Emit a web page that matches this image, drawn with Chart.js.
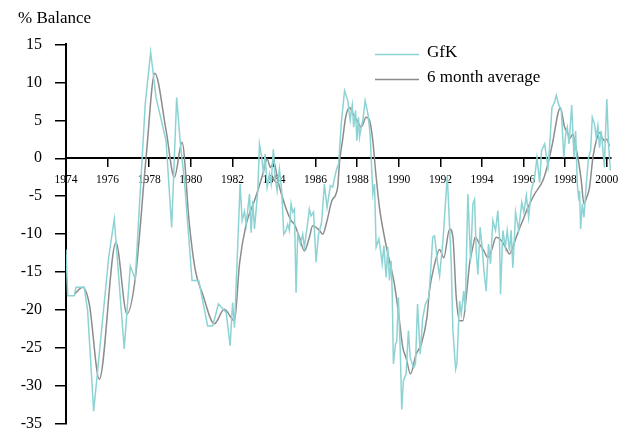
<!DOCTYPE html>
<html>
<head>
<meta charset="utf-8">
<script src="https://cdn.jsdelivr.net/npm/chart.js@4/dist/chart.umd.min.js"></script>
<style>
  html, body { margin: 0; padding: 0; background: #fff; }
  #wrap { width: 626px; height: 431px; }
</style>
</head>
<body>
<div id="wrap"><canvas id="gfk-chart" width="626" height="431"></canvas></div>
<script>
// GfK consumer confidence, % balance
const gfkYears = [
  1974.00, 1974.08, 1974.40, 1974.48, 1974.88, 1975.04, 1975.33, 1976.05, 1976.32, 1976.80,
  1977.09, 1977.33, 1977.81, 1978.07, 1978.33, 1978.81, 1979.08, 1979.32, 1979.50, 1979.69,
  1980.06, 1980.38, 1980.81, 1981.05, 1981.33, 1981.70, 1981.89, 1982.01, 1982.10, 1982.37,
  1982.47, 1982.58, 1982.66, 1982.82, 1982.90, 1982.98, 1983.06, 1983.22, 1983.30, 1983.41,
  1983.49, 1983.57, 1983.67, 1983.78, 1983.86, 1983.97, 1984.05, 1984.15, 1984.26, 1984.37,
  1984.47, 1984.58, 1984.66, 1984.74, 1984.82, 1984.90, 1984.98, 1985.06, 1985.14, 1985.27,
  1985.38, 1985.46, 1985.59, 1985.70, 1985.78, 1985.90, 1986.02, 1986.14, 1986.29, 1986.42,
  1986.55, 1986.71, 1986.82, 1986.99, 1987.11, 1987.23, 1987.39, 1987.55, 1987.66, 1987.76,
  1987.83, 1987.92, 1987.98, 1988.06, 1988.11, 1988.19, 1988.27, 1988.38, 1988.51, 1988.62,
  1988.75, 1988.83, 1988.91, 1989.04, 1989.10, 1989.20, 1989.28, 1989.39, 1989.47, 1989.55,
  1989.63, 1989.68, 1989.74, 1989.84, 1989.90, 1989.98, 1990.07, 1990.14, 1990.22, 1990.35,
  1990.46, 1990.55, 1990.71, 1990.80, 1990.90, 1991.03, 1991.15, 1991.28, 1991.44, 1991.51,
  1991.63, 1991.72, 1991.87, 1991.96, 1992.12, 1992.33, 1992.52, 1992.60, 1992.73, 1992.79,
  1992.92, 1993.00, 1993.12, 1993.19, 1993.32, 1993.45, 1993.56, 1993.64, 1993.72, 1993.80,
  1993.91, 1993.99, 1994.09, 1994.20, 1994.31, 1994.41, 1994.52, 1994.65, 1994.76, 1994.84,
  1994.89, 1995.00, 1995.12, 1995.21, 1995.32, 1995.40, 1995.48, 1995.56, 1995.61, 1995.76,
  1995.91, 1996.01, 1996.13, 1996.24, 1996.37, 1996.53, 1996.64, 1996.77, 1996.86, 1997.01,
  1997.17, 1997.25, 1997.36, 1997.49, 1997.57, 1997.69, 1997.81, 1997.89, 1997.93, 1998.02,
  1998.10, 1998.18, 1998.24, 1998.31, 1998.42, 1998.50, 1998.58, 1998.64, 1998.69, 1998.74,
  1998.82, 1998.90, 1999.01, 1999.12, 1999.22, 1999.30, 1999.41, 1999.49, 1999.57, 1999.65,
  1999.73, 1999.81, 1999.88, 1999.94, 2000.00, 2000.08, 2000.17
];
const gfkValues = [
  -12.0, -18.1, -18.1, -17.0, -17.0, -20.1, -33.3, -13.1, -8.0, -25.1,
  -14.2, -15.9, 7.2, 14.0, 8.0, 2.3, -9.1, 8.0, 1.9, -2.9,
  -16.1, -16.1, -22.1, -22.1, -19.2, -20.3, -24.7, -19.0, -22.3, -3.4,
  -8.2, -7.0, -8.7, -4.7, -9.8, -5.6, -9.3, -4.3, 1.9, 0.1,
  -2.1, 0.6, -3.8, -2.1, -3.4, 1.2, -2.5, -4.3, -1.4, -4.3,
  -10.0, -9.5, -8.7, -9.5, -6.0, -7.1, -6.7, -17.7, -10.0, -11.3,
  -10.0, -11.7, -9.1, -6.7, -7.6, -7.1, -13.7, -10.0, -8.4, -3.4,
  -6.5, -3.6, -3.8, -1.6, -0.7, 4.5, 8.9, 7.6, 5.0, 7.0,
  4.1, 6.3, 2.3, 5.4, 2.8, 4.1, 5.0, 7.6, 5.9, 3.2,
  -4.7, -3.4, -11.7, -10.6, -11.7, -13.9, -11.5, -15.7, -11.7, -16.1,
  -13.5, -17.5, -27.1, -24.5, -24.1, -18.3, -25.4, -33.1, -29.3, -28.4,
  -22.7, -26.3, -27.6, -27.1, -19.2, -25.8, -21.0, -19.2, -18.3, -15.7,
  -10.4, -10.2, -13.9, -15.5, -10.9, -2.3, -13.9, -22.7, -27.8, -27.1,
  -18.8, -20.5, -17.5, -20.1, -4.7, -13.5, -6.0, -5.4, -12.2, -15.3,
  -9.1, -11.3, -14.8, -17.5, -11.3, -13.9, -8.2, -9.5, -6.9, -10.4,
  -17.9, -9.5, -11.7, -9.5, -12.2, -9.5, -14.4, -10.4, -7.1, -9.5,
  -5.8, -7.1, -4.9, -7.8, -4.3, -2.5, 0.1, -3.2, 1.0, 1.9,
  -1.2, 1.5, 6.7, 7.4, 8.3, 7.0, 6.3, 2.3, 0.1, 3.2,
  4.1, 1.9, 4.1, 7.0, 0.1, 3.6, -3.4, -5.1, -4.3, -9.3,
  -6.0, -7.8, -3.4, 0.1, 1.0, 5.4, 4.5, 2.8, 4.3, 1.4,
  3.6, 1.2, -1.2, 3.6, 7.8, 1.9, -1.6
];

// 6 month average
const avgYears = [
  1974.40, 1974.80, 1975.12, 1975.60, 1976.40, 1976.93, 1977.33, 1977.85, 1978.27, 1978.81,
  1979.21, 1979.58, 1979.93, 1980.22, 1980.57, 1981.13, 1981.61, 1982.10, 1982.34, 1982.66,
  1983.06, 1983.46, 1983.67, 1983.83, 1983.99, 1984.18, 1984.50, 1984.82, 1984.98, 1985.22,
  1985.46, 1985.70, 1985.86, 1986.18, 1986.34, 1986.55, 1986.78, 1987.06, 1987.15, 1987.30,
  1987.45, 1987.63, 1987.79, 1988.03, 1988.19, 1988.43, 1988.59, 1988.75, 1988.88, 1989.07,
  1989.31, 1989.55, 1989.79, 1990.03, 1990.19, 1990.35, 1990.56, 1990.83, 1991.08, 1991.35,
  1991.47, 1991.70, 1991.96, 1992.16, 1992.44, 1992.60, 1992.76, 1992.92, 1993.08, 1993.24,
  1993.40, 1993.56, 1993.67, 1993.88, 1994.09, 1994.28, 1994.47, 1994.68, 1994.92, 1995.12,
  1995.32, 1995.53, 1995.76, 1995.96, 1996.20, 1996.40, 1996.53, 1996.93, 1997.17, 1997.41,
  1997.65, 1997.76, 1997.97, 1998.13, 1998.21, 1998.37, 1998.45, 1998.61, 1998.77, 1998.90,
  1999.04, 1999.17, 1999.33, 1999.49, 1999.65, 1999.78, 1999.89, 2000.00, 2000.13
];
const avgValues = [
  -17.9, -17.0, -19.2, -29.1, -11.1, -20.5, -15.8, 0.1, 11.2, 3.7,
  -2.5, 2.1, -8.7, -14.8, -17.9, -21.8, -19.9, -21.4, -13.9, -8.7,
  -5.6, -2.1, -0.1, -1.2, -0.5, -2.9, -6.0, -8.2, -8.7, -10.4,
  -12.2, -10.4, -8.9, -9.5, -10.0, -8.2, -5.6, -3.8, -0.5, 2.5,
  5.5, 6.7, 5.9, 4.8, 4.1, 5.4, 5.0, 2.3, -1.6, -6.5,
  -10.4, -13.5, -16.6, -21.4, -24.9, -26.3, -28.4, -25.8, -24.5, -21.0,
  -17.5, -14.2, -12.0, -13.1, -9.3, -10.4, -18.3, -21.4, -21.4, -18.3,
  -13.9, -11.7, -10.4, -11.3, -12.2, -13.1, -12.0, -10.4, -10.8, -11.7,
  -12.6, -11.3, -9.5, -8.2, -6.5, -5.4, -4.7, -2.9, -0.7, 2.3,
  5.9, 6.7, 4.1, 3.2, 2.6, 3.2, 2.1, 0.1, -2.9, -6.0,
  -5.1, -3.8, 0.1, 2.3, 3.4, 2.7, 2.3, 2.5, 1.6
];

const seriesNames = ['GfK', '6 month average'];
const seriesColors = ['#8dd3d3', '#8c8c8c'];

const serif = 'Liberation Serif';

// legend sits inside the plot, top right
const insideLegend = {
  id: 'insideLegend',
  afterDatasetsDraw(chart) {
    const ctx = chart.ctx;
    const area = chart.chartArea;
    chart.data.datasets.forEach((ds, i) => {
      const y = area.top + 10 + i * 25;
      const x0 = area.left + 309;
      ctx.save();
      ctx.strokeStyle = ds.borderColor;
      ctx.lineWidth = 1.5;
      ctx.beginPath();
      ctx.moveTo(x0, y);
      ctx.lineTo(x0 + 44, y);
      ctx.stroke();
      ctx.fillStyle = '#000';
      ctx.font = '17px "' + serif + '"';
      ctx.textBaseline = 'middle';
      ctx.fillText(ds.label, x0 + 52, y - 2);
      ctx.restore();
    });
  }
};

const toPoints = (xs, ys) => xs.map((x, i) => ({ x: x, y: ys[i] }));

new Chart(document.getElementById('gfk-chart'), {
  type: 'line',
  data: {
    datasets: [
      {
        label: seriesNames[0],
        data: toPoints(gfkYears, gfkValues),
        borderColor: seriesColors[0],
        borderWidth: 1.5,
        pointRadius: 0,
        tension: 0
      },
      {
        label: seriesNames[1],
        data: toPoints(avgYears, avgValues),
        borderColor: seriesColors[1],
        borderWidth: 1.5,
        pointRadius: 0,
        cubicInterpolationMode: 'monotone'
      }
    ]
  },
  options: {
    responsive: false,
    animation: false,
    layout: { padding: { left: 18, right: 15, top: 0, bottom: 7 } },
    plugins: {
      legend: { display: false },
      tooltip: { enabled: false },
      title: {
        display: true,
        text: '% Balance',
        align: 'start',
        color: '#000',
        font: { family: serif, size: 17, weight: 'normal' },
        padding: { top: 8, bottom: 16 }
      }
    },
    scales: {
      x: {
        type: 'linear',
        position: { y: 0 },
        min: 1974,
        max: 2000.2,
        grid: { drawOnChartArea: false, tickLength: 8, color: '#000', lineWidth: 1.5 },
        border: { color: '#000', width: 2 },
        ticks: {
          stepSize: 2,
          includeBounds: false,
          autoSkip: false,
          maxRotation: 0,
          padding: 7,
          color: '#000',
          font: { family: serif, size: 11.5 },
          callback: v => String(v)
        }
      },
      y: {
        min: -35,
        max: 15,
        afterFit: scale => {
          scale.width = 48;
          // labels may hang over the plot edges, like the original
          scale.paddingTop = 0;
          scale.paddingBottom = 0;
        },
        grid: { drawOnChartArea: false, tickLength: 11, color: '#000', lineWidth: 1.5 },
        border: { color: '#000', width: 2 },
        ticks: {
          stepSize: 5,
          padding: 13,
          color: '#000',
          font: { family: serif, size: 16 }
        }
      }
    }
  },
  plugins: [insideLegend]
});
</script>
</body>
</html>
